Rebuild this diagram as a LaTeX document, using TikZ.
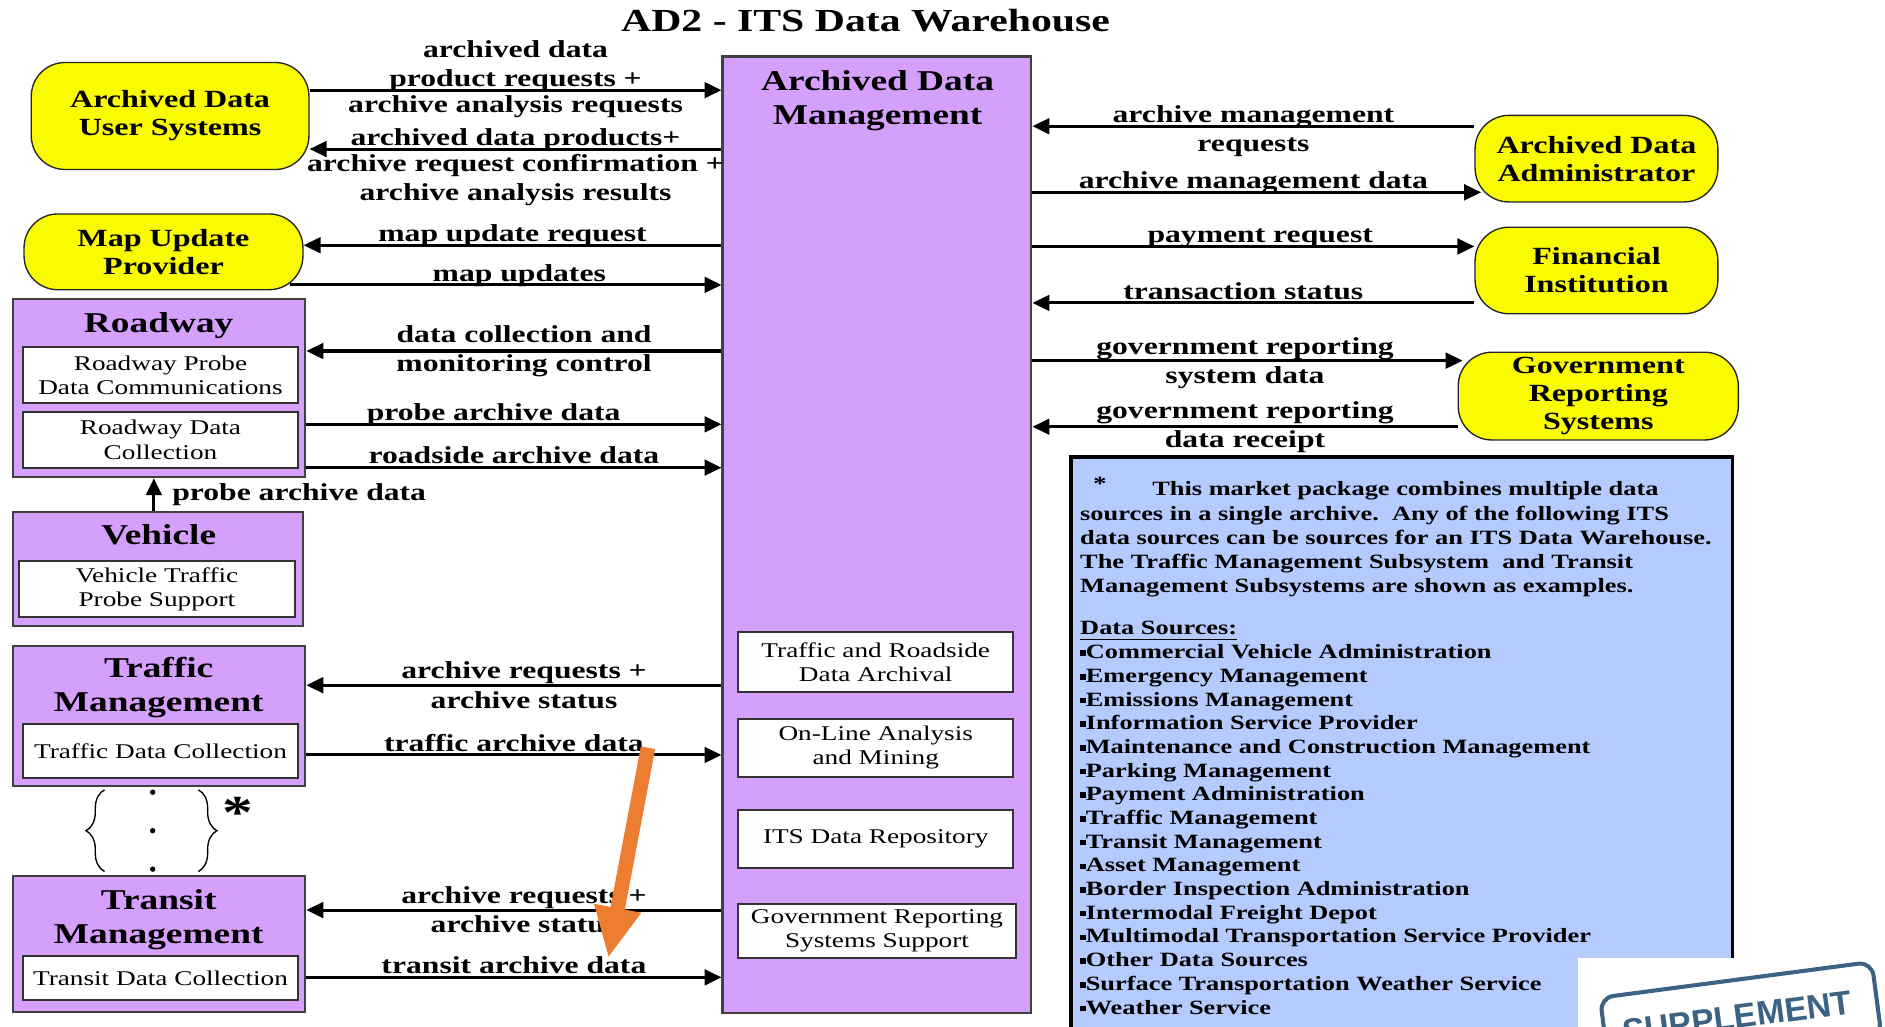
\documentclass[tikz,border=0pt]{standalone}
\usepackage{fontspec}
\setmainfont{Liberation Serif}[FakeStretch=1.3]
\setsansfont{Liberation Sans}
\usetikzlibrary{arrows.meta,fit,decorations.pathreplacing}

\definecolor{ylw}{RGB}{250,250,0}
\definecolor{lav}{RGB}{212,160,252}
\definecolor{notebl}{RGB}{181,203,254}
\definecolor{ornge}{RGB}{237,125,49}
\definecolor{stampc}{RGB}{62,98,132}
\newcommand\sq{\rule[0.3ex]{0.6ex}{0.6ex}}

\begin{document}
\begin{tikzpicture}[x=0.0125cm,y=-0.0125cm,
  lbl/.style={font=\fontsize{7.2}{8.6}\selectfont\bfseries,align=center,inner sep=0.5pt},
  up/.style={lbl,above,text depth=0.2pt},
  dn/.style={lbl,below,yshift=-0.7pt},
  flow/.style={line width=0.9pt,-{Triangle[length=5pt,width=4.6pt]}},
  ext/.style={draw=black!85,fill=ylw,rounded corners=10pt,inner sep=0pt},
  extt/.style={align=center,font=\fontsize{7.3}{8.3}\selectfont\bfseries},
  subsys/.style={draw=black!75,fill=lav,inner sep=0pt,line width=0.6pt},
  ttl/.style={font=\fontsize{8.5}{10}\selectfont\bfseries,align=center},
  pkg/.style={draw=black!80,fill=white,inner sep=0pt,line width=0.6pt},
  pkgt/.style={align=center,font=\fontsize{6.2}{7.2}\selectfont},
  nt/.style={font=\fontsize{6}{7}\selectfont\bfseries,anchor=base west,inner sep=0pt}]
\useasboundingbox (0,0) rectangle (1568,854);
\clip (0,0) rectangle (1568,854);
\node[font=\fontsize{9.5}{11}\selectfont\bfseries] (title) at (720,17) {AD2 - ITS Data Warehouse};

% terminators
\node[ext,fit={(26,52)(257,141)}] (ads) {};
\node[extt] (adst) at (ads) {Archived Data\\User Systems};
\node[ext,fit={(20,178)(252,241)}] (mup) {};
\node[extt] (mupt) at (mup) {Map Update\\Provider};
\node[ext,fit={(1227,96)(1429,168)}] (ada) {};
\node[extt] (adat) at (ada) {Archived Data\\Administrator};
\node[ext,fit={(1227,189)(1429,261)}] (fin) {};
\node[extt] (fint) at (fin) {Financial\\Institution};
\node[ext,fit={(1213,293)(1446,366)}] (grs) {};
\node[extt] (grst) at (grs) {Government\\Reporting\\Systems};

% subsystems and their packages
\node[subsys,fit={(11,249)(254,397)}] (road) {};
\node[ttl] (roadt) at (132,271) {Roadway};
\node[pkg,fit={(19,289)(248,335)}] (roadprobe) {};
\node[pkgt] (roadprobet) at (roadprobe) {Roadway Probe\\Data Communications};
\node[pkg,fit={(19,343)(248,389)}] (roadcoll) {};
\node[pkgt] (roadcollt) at (roadcoll) {Roadway Data\\Collection};

\node[subsys,fit={(11,426)(252,521)}] (veh) {};
\node[ttl] (veht) at (132,445) {Vehicle};
\node[pkg,fit={(16,467)(245,513)}] (vehprobe) {};
\node[pkgt] (vehprobet) at (vehprobe) {Vehicle Traffic\\Probe Support};

\node[subsys,fit={(11,537)(254,654)}] (tm) {};
\node[ttl] (tmt) at (132,572) {Traffic\\Management};
\node[pkg,fit={(19,602)(248,647)}] (tmcoll) {};
\node[pkgt] (tmcollt) at (tmcoll) {Traffic Data Collection};

\node[subsys,fit={(11,729)(254,842)}] (trm) {};
\node[ttl] (trmt) at (132,765) {Transit\\Management};
\node[pkg,fit={(19,795)(248,832)}] (trmcoll) {};
\node[pkgt] (trmcollt) at (trmcoll) {Transit Data Collection};

\node[subsys,fit={(601,47)(858,843)}] (adm) {};
\node[ttl] (admt) at (730,84) {Archived Data\\Management};
\node[pkg,fit={(614,526)(843,576)}] (admarch) {};
\node[pkgt] (admarcht) at (admarch) {Traffic and Roadside\\Data Archival};
\node[pkg,fit={(614,598)(843,646)}] (admmine) {};
\node[pkgt] (admminet) at (admmine) {On-Line Analysis\\and Mining};
\node[pkg,fit={(614,674)(843,722)}] (admrepo) {};
\node[pkgt] (admrepot) at (admrepo) {ITS Data Repository};
\node[pkg,fit={(614,752)(845,797)}] (admgov) {};
\node[pkgt] (admgovt) at (admgov) {Government Reporting\\Systems Support};

% flows on the left
\draw[flow] (ads.east |- 0,75) -- node[up] (l1a) {archived data\\product requests +}
  node[dn] (l1b) {archive analysis requests} (adm.west |- 0,75);
\draw[flow] (adm.west |- 0,124) -- node[up] (l2a) {archived data products+}
  node[dn] (l2b) {archive request confirmation +\\archive analysis results} (ads.east |- 0,124);
\draw[flow] (adm.west |- 0,204) -- node[up] (l3) {map update request} (mup.east |- 0,204);
\draw[flow,shorten <=-4pt] (mup.east |- 0,237) -- node[up,xshift=2pt] (l4) {map updates} (adm.west |- 0,237);
\draw[flow] (adm.west |- 0,292) -- node[lbl,xshift=3pt] (l5) {data collection and\\monitoring control} (road.east |- 0,292);
\draw[flow] (road.east |- 0,353) -- node[up,xshift=-6pt] (l6) {probe archive data} (adm.west |- 0,353);
\draw[flow] (road.east |- 0,389) -- node[up] (l7) {roadside archive data} (adm.west |- 0,389);
\draw[flow] (veh.north -| 128,0) -- node[lbl,right=4.5pt] (l8) {probe archive data} (road.south -| 128,0);
\draw[flow] (adm.west |- 0,570) -- node[lbl,xshift=3pt] (l9) {archive requests +\\archive status} (tm.east |- 0,570);
\draw[flow] (tm.east |- 0,628) -- node[up] (l10) {traffic archive data} (adm.west |- 0,628);
\draw[flow] (adm.west |- 0,757) -- node[lbl,xshift=3pt] (l11) {archive requests +\\archive status} (trm.east |- 0,757);
\draw[flow] (trm.east |- 0,813) -- node[up] (l12) {transit archive data} (adm.west |- 0,813);

% flows on the right
\draw[flow] (ada.west |- 0,105) -- node[lbl,yshift=-1.5pt] (r1) {archive management\\requests} (adm.east |- 0,105);
\draw[flow,shorten >=-2pt] (adm.east |- 0,160) -- node[up] (r2) {archive management data} (ada.west |- 0,160);
\draw[flow] (adm.east |- 0,205) -- node[up,xshift=2pt] (r3) {payment request} (fin.west |- 0,205);
\draw[flow] (fin.west |- 0,252) -- node[up,xshift=-3pt] (r4) {transaction status} (adm.east |- 0,252);
\draw[flow,shorten >=-1.5pt] (adm.east |- 0,300) -- node[lbl,yshift=-0.8pt] (r5) {government reporting\\system data} (grs.west |- 0,300);
\draw[flow] (grs.west |- 0,355) -- node[lbl] (r6) {government reporting\\data receipt} (adm.east |- 0,355);

% "more sources" brace
\draw[decorate,decoration={brace,amplitude=5.5pt}] (87,725) -- (87,657);
\draw[decorate,decoration={brace,amplitude=5.5pt}] (165,657) -- (165,725);
\foreach \y in {659,691,723} \fill (127,\y) circle[radius=0.8pt];
\node[font=\fontsize{14}{14}\selectfont\bfseries,anchor=base,inner sep=0pt] (star) at (198,689) {*};

% note on data sources
\node[draw,line width=1pt,fill=notebl,inner sep=0pt,fit={(891,380)(1441,875)}] (note) {};
\node[nt,anchor=base] (nstar) at (915,408) {*};
\node[nt] (n1) at (958,412) {This market package combines multiple data};
\node[nt] (n2) at (898,433) {sources in a single archive.\ \ Any of the following ITS};
\node[nt] (n3) at (898,453) {data sources can be sources for an ITS Data Warehouse.};
\node[nt] (n4) at (898,473) {The Traffic Management Subsystem\ \ and Transit};
\node[nt] (n5) at (898,493) {Management Subsystems are shown as examples.};
\node[nt] (nds) at (898,528) {\underline{Data Sources:}};
\foreach \lab [count=\i from 0] in {Commercial Vehicle Administration,Emergency Management,
    Emissions Management,Information Service Provider,Maintenance and Construction Management,
    Parking Management,Payment Administration,Traffic Management,Transit Management,
    Asset Management,Border Inspection Administration,Intermodal Freight Depot,
    Multimodal Transportation Service Provider,Other Data Sources,
    Surface Transportation Weather Service,Weather Service}
  \node[nt] (src\i) at (898,548+19.7*\i) {\sq\lab};

% highlight arrow
\coordinate (otail) at (539,622);
\coordinate (otip) at (506,797);
\draw[ornge,line width=4.3pt,-{Triangle[length=15pt,width=13pt]}] (otail) -- (otip);

% stamp in the corner
\fill[white] (1313,797) rectangle (1568,854);
\begin{scope}
\clip (1313,797) rectangle (1568,854);
\node[draw=stampc,line width=1.2pt,rounded corners=4pt,minimum width=2.85cm,minimum height=0.78cm,rotate=7.5] (stamp) at (1448,846) {};
\node[text=stampc,font=\sffamily\bfseries\fontsize{10}{10}\selectfont,rotate=7.5] (stampt) at (1445,846) {SUPPLEMENT};
\end{scope}
\end{tikzpicture}
\end{document}
